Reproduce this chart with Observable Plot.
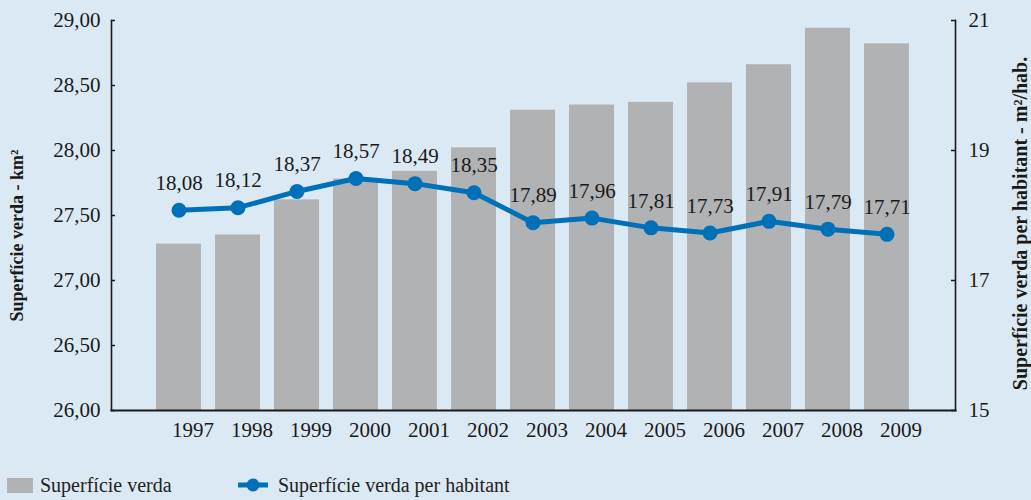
<!DOCTYPE html>
<html>
<head>
<meta charset="utf-8">
<script src="https://cdn.jsdelivr.net/npm/d3@7"></script>
<script src="https://cdn.jsdelivr.net/npm/@observablehq/plot@0.6"></script>
<style>
  html, body { margin: 0; padding: 0; background: #dbe9f4; }
  #chart { width: 1031px; height: 470px; }
  .legend { position: relative; height: 30px; font-family: "Liberation Serif", serif; font-size: 20px; color: #222; }
  .legend .item { position: absolute; top: 0; display: flex; align-items: center; height: 30px; }
  .legend .sw { display: inline-block; width: 26px; height: 15px; background: #b1b2b3; margin-right: 7px; }
</style>
</head>
<body>
<div id="chart"></div>
<div class="legend">
  <div class="item" style="left:7px;"><span class="sw"></span><span>Superfície verda</span></div>
  <div class="item" style="left:237px;"><svg width="32" height="16" style="margin-right:9px"><line x1="1" y1="8" x2="31" y2="8" stroke="#0070b8" stroke-width="5"/><circle cx="16" cy="8" r="6.5" fill="#0070b8"/></svg><span>Superfície verda per habitant</span></div>
</div>
<script>
const years = [1997, 1998, 1999, 2000, 2001, 2002, 2003, 2004, 2005, 2006, 2007, 2008, 2009];
const superficieVerda = [27.28, 27.35, 27.62, 27.78, 27.84, 28.02, 28.31, 28.35, 28.37, 28.52, 28.66, 28.94, 28.82];
const perHabitant = [18.08, 18.12, 18.37, 18.57, 18.49, 18.35, 17.89, 17.96, 17.81, 17.73, 17.91, 17.79, 17.71];
const leftTicks = [26, 26.5, 27, 27.5, 28, 28.5, 29];
const rightTicks = [15, 17, 19, 21];
const leftTitle = "Superfície verda - km²";
const rightTitle = "Superfície verda per habitant - m²/hab.";

// right axis domain [15,21] mapped onto left axis domain [26,29]
const rightToLeft = v => 26 + (v - 15) * (29 - 26) / (21 - 15);
const leftToRight = v => 15 + (v - 26) * (21 - 15) / (29 - 26);

const data = years.map((y, i) => ({year: y, sup: superficieVerda[i], hab: perHabitant[i], habY: rightToLeft(perHabitant[i])}));
const comma = (v, d) => v.toFixed(d).replace(".", ",");

const ink = "#1a1a1a";
const chart = Plot.plot({
  width: 1031,
  height: 470,
  marginLeft: 111,
  marginRight: 76,
  marginTop: 20,
  marginBottom: 60,
  style: {background: "transparent", fontFamily: "Liberation Serif, serif", fontSize: "21px", color: ink},
  x: {type: "band", domain: years, paddingInner: 0.23, paddingOuter: 0.7, axis: null},
  y: {domain: [26, 29], axis: null},
  marks: [
    Plot.barY(data, {x: "year", y1: 26, y2: "sup", fill: "#b1b2b3"}),
    Plot.axisX(years, {tickSize: 0, tickPadding: 12, dx: 14, tickFormat: d => String(d), label: null, fontSize: 21, fill: ink}),
    Plot.axisY(leftTicks, {anchor: "left", tickSize: -4, tickPadding: 15, tickFormat: d => comma(d, 2), label: null, fontSize: 21, fill: ink, stroke: ink, strokeWidth: 1.5}),
    Plot.axisY(rightTicks.map(rightToLeft), {anchor: "right", tickSize: -5, tickPadding: 18, tickFormat: d => String(Math.round(leftToRight(d))), label: null, fontSize: 21, fill: ink, stroke: ink, strokeWidth: 1.5}),
    Plot.frame({anchor: "left", stroke: ink, strokeWidth: 1.6}),
    Plot.frame({anchor: "right", stroke: ink, strokeWidth: 1.6}),
    Plot.frame({anchor: "bottom", stroke: ink, strokeWidth: 2}),
    Plot.line(data, {x: "year", y: "habY", stroke: "#0070b8", strokeWidth: 5}),
    Plot.dot(data, {x: "year", y: "habY", r: 7.5, fill: "#0070b8"}),
    Plot.text(data, {x: "year", y: "habY", text: d => comma(d.hab, 2), dy: -27, fontSize: 21, fill: ink}),
    Plot.text([leftTitle], {frameAnchor: "left", textAnchor: "middle", dx: -94, dy: 20, rotate: -90, fontSize: 18, fontWeight: "bold", fill: ink}),
    Plot.text([rightTitle], {frameAnchor: "right", textAnchor: "middle", dx: 65, dy: 8, rotate: -90, fontSize: 20, fontWeight: "bold", fill: ink})
  ]
});
document.getElementById("chart").appendChild(chart);
</script>
</body>
</html>
